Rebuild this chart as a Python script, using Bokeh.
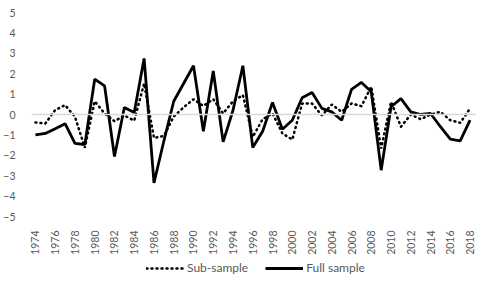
import math
from bokeh.plotting import figure
from bokeh.layouts import column
from bokeh.models import FixedTicker, Span, Legend, LegendItem, Range1d
from bokeh.embed import file_html
from bokeh.resources import INLINE

years = list(range(1974, 2019))
full_sample = [-1.0, -0.93, -0.7, -0.45, -1.42, -1.47, 1.73, 1.4, -2.06, 0.34,
               0.1, 2.75, -3.35, -1.3, 0.65, 1.52, 2.39, -0.82, 2.13, -1.34,
               0.21, 2.39, -1.62, -0.82, 0.59, -0.72, -0.28, 0.82, 1.08, 0.3,
               0.13, -0.28, 1.23, 1.57, 1.11, -2.73, 0.38, 0.78, 0.13, 0.0,
               0.05, -0.6, -1.21, -1.29, -0.28]
sub_sample = [-0.39, -0.44, 0.22, 0.46, -0.11, -1.63, 0.65, 0.05, -0.33, -0.05,
              -0.3, 1.52, -1.15, -1.05, -0.1, 0.35, 0.75, 0.42, 0.75, 0.05,
              0.65, 0.95, -1.1, -0.23, 0.05, -0.93, -1.23, 0.54, 0.54, -0.05,
              0.49, 0.13, 0.54, 0.41, 1.36, -1.67, 0.62, -0.6, 0.0, -0.23,
              0.0, 0.13, -0.28, -0.41, 0.3]
x_ticks = list(range(1974, 2019, 2))
y_ticks = list(range(-5, 6))
series_names = ["Sub-sample", "Full sample"]

FONT = "Lato"
GRAY = "#595959"
DOT = dict(line_color="black", line_width=2.5, line_dash="1 4", line_cap="round")
SOLID = dict(line_color="black", line_width=2.8)

p = figure(width=476, height=258, output_backend="svg", toolbar_location=None,
           x_range=(1973.6, 2018.65), y_range=(-5, 5),
           min_border_left=20, min_border_right=0, min_border_top=12, min_border_bottom=42)
p.outline_line_color = None
p.xgrid.grid_line_color = None
p.ygrid.grid_line_color = None

p.add_layout(Span(location=0, dimension="width", line_color="#d9d9d9", line_width=1.5))

p.line(years, sub_sample, **DOT)
p.line(years, full_sample, **SOLID)

for ax in (p.xaxis[0], p.yaxis[0]):
    ax.axis_line_color = None
    ax.major_tick_line_color = None
    ax.minor_tick_line_color = None
    ax.major_label_text_font = FONT
    ax.major_label_text_font_size = "10.5px"
    ax.major_label_text_color = GRAY

p.xaxis[0].ticker = FixedTicker(ticks=x_ticks)
p.xaxis[0].major_label_orientation = math.pi / 2
p.xaxis[0].major_label_standoff = 8
p.yaxis[0].ticker = FixedTicker(ticks=y_ticks)
p.yaxis[0].major_label_standoff = 10

# legend strip: the series are drawn outside its visible range, only the legend shows
lg = figure(width=476, height=19, output_backend="svg", toolbar_location=None,
            x_range=Range1d(0, 1), y_range=Range1d(0, 1),
            min_border=0, x_axis_type=None, y_axis_type=None)
lg.outline_line_color = None
lg.xgrid.grid_line_color = None
lg.ygrid.grid_line_color = None
r_sub = lg.line(years, sub_sample, **DOT)
r_full = lg.line(years, full_sample, **SOLID)
legend = Legend(items=[LegendItem(label=series_names[0], renderers=[r_sub]),
                       LegendItem(label=series_names[1], renderers=[r_full])],
                orientation="horizontal", location=(115, 2),
                label_text_font=FONT, label_text_font_size="12px",
                label_text_color=GRAY, glyph_width=38, glyph_height=14, spacing=17,
                label_standoff=3, padding=0, margin=0,
                border_line_color=None, background_fill_alpha=0)
lg.add_layout(legend, "center")

open("out.html", "w").write(file_html(column(p, lg, spacing=0), INLINE))
